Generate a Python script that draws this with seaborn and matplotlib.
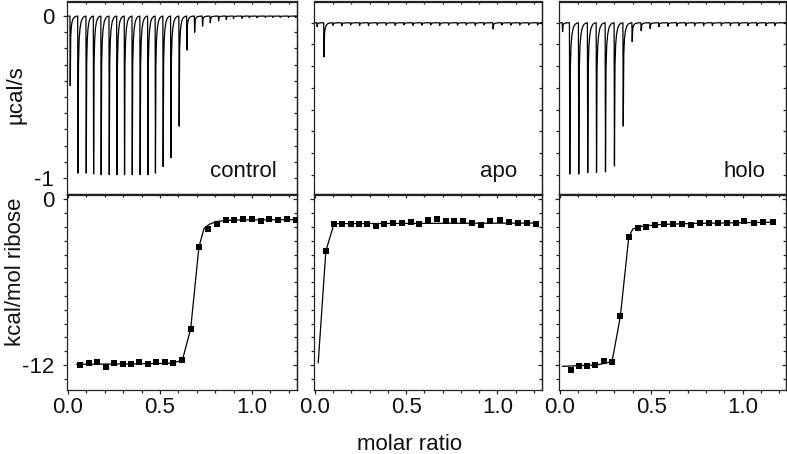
import seaborn as sns
import matplotlib.pyplot as plt
from matplotlib.ticker import MultipleLocator, FixedLocator, FixedFormatter


###############################################################################
### DATA
###############################################################################
# raw ITC thermograms: injection position (same units as the x axis below)
# and peak depth in ucal/s
ctrl_inj = [0.011, 0.053, 0.098, 0.138, 0.179, 0.223, 0.265, 0.306, 0.348, 0.391,
            0.433, 0.474, 0.516, 0.558, 0.603, 0.645, 0.687, 0.730, 0.772, 0.817,
            0.859, 0.898, 0.944, 0.984, 1.025, 1.071, 1.112, 1.152, 1.197, 1.237]
ctrl_peak = [-0.43, -0.97, -0.97, -0.975, -0.98, -0.98, -0.98, -0.98, -0.98, -0.98,
             -0.98, -0.97, -0.93, -0.875, -0.68, -0.21, -0.10, -0.062, -0.041, -0.029,
             -0.021, -0.014, -0.014, -0.010, -0.010, -0.008, -0.008, -0.008, -0.008, -0.008]

apo_inj = [0.011, 0.048, 0.097, 0.145, 0.194, 0.243, 0.292, 0.340, 0.389, 0.438,
           0.487, 0.536, 0.584, 0.633, 0.682, 0.731, 0.780, 0.828, 0.877, 0.926,
           0.975, 1.023, 1.072, 1.121, 1.170, 1.219]
apo_peak = [-0.018, -0.157, -0.012, -0.014, -0.010, -0.012, -0.013, -0.010, -0.011, -0.012,
            -0.010, -0.012, -0.011, -0.010, -0.012, -0.010, -0.011, -0.010, -0.012, -0.010,
            -0.028, -0.010, -0.011, -0.010, -0.010, -0.010]

holo_inj = [0.015, 0.054, 0.103, 0.152, 0.200, 0.249, 0.298, 0.346, 0.395, 0.444,
            0.493, 0.541, 0.590, 0.639, 0.687, 0.736, 0.785, 0.833, 0.882, 0.931,
            0.979, 1.028, 1.077, 1.126, 1.174]
holo_peak = [-0.041, -0.697, -0.697, -0.690, -0.690, -0.687, -0.660, -0.476, -0.087, -0.037,
             -0.026, -0.018, -0.016, -0.015, -0.014, -0.014, -0.014, -0.013, -0.013, -0.013,
             -0.013, -0.013, -0.013, -0.013, -0.013]

# integrated heats, kcal/mol ribose vs molar ratio
ctrl_ratio = [0.065, 0.114, 0.159, 0.205, 0.250, 0.297, 0.342, 0.388, 0.433, 0.478,
              0.526, 0.572, 0.620, 0.667, 0.712, 0.759, 0.808, 0.857, 0.904, 0.953,
              0.998, 1.047, 1.094, 1.143, 1.189, 1.237]
ctrl_heat = [-12.03, -11.86, -11.79, -12.15, -11.86, -11.91, -11.91, -11.81, -11.91, -11.81,
             -11.81, -11.86, -11.67, -9.37, -3.45, -2.17, -1.76, -1.52, -1.52, -1.45,
             -1.40, -1.57, -1.45, -1.47, -1.45, -1.47]
ctrl_fit_x = [0.047, 0.30, 0.55, 0.60, 0.625, 0.667, 0.712, 0.74, 0.77, 0.81, 0.90, 1.24]
ctrl_fit_y = [-11.95, -11.93, -11.88, -11.75, -11.5, -9.4, -3.45, -2.1, -1.8, -1.6, -1.5, -1.47]

apo_ratio = [0.060, 0.105, 0.151, 0.197, 0.242, 0.288, 0.333, 0.379, 0.430, 0.475,
             0.525, 0.570, 0.619, 0.667, 0.716, 0.765, 0.812, 0.862, 0.911, 0.962,
             1.013, 1.062, 1.111, 1.162, 1.210]
apo_heat = [-3.74, -1.76, -1.81, -1.76, -1.76, -1.81, -1.93, -1.76, -1.69, -1.69,
            -1.64, -1.76, -1.52, -1.45, -1.59, -1.57, -1.59, -1.69, -1.88, -1.57,
            -1.47, -1.64, -1.69, -1.69, -1.76]
apo_fit_x = [0.018, 0.060, 0.105, 1.21]
apo_fit_y = [-11.86, -3.74, -1.76, -1.72]

holo_ratio = [0.060, 0.105, 0.151, 0.196, 0.241, 0.287, 0.332, 0.378, 0.427, 0.474,
              0.523, 0.569, 0.618, 0.669, 0.718, 0.765, 0.814, 0.863, 0.914, 0.963,
              1.010, 1.063, 1.113, 1.164]
holo_heat = [-12.39, -12.08, -12.08, -11.98, -11.71, -11.79, -8.48, -2.73, -2.05, -2.00,
             -1.88, -1.81, -1.81, -1.81, -1.88, -1.69, -1.69, -1.69, -1.71, -1.69,
             -1.57, -1.71, -1.64, -1.64]
holo_fit_x = [0.015, 0.20, 0.241, 0.287, 0.332, 0.378, 0.40, 0.45, 0.55, 0.75, 1.164]
holo_fit_y = [-12.1, -12.0, -11.9, -11.75, -8.5, -2.75, -2.15, -1.95, -1.82, -1.74, -1.66]

panels = ['control', 'apo', 'holo']

# shape of a single injection spike: fraction of depth vs fraction of spacing
spike_dx = [0.0, 0.04, 0.10, 0.18, 0.28, 0.42, 0.60, 0.80, 1.0]
spike_f = [0.0, 1.0, 0.30, 0.15, 0.08, 0.035, 0.012, 0.003, 0.0]


def thermogram(inj, peak, x_end):
    '''
    build a power trace from injection positions and peak depths
    '''
    xs, ys = [0.0], [0.0]
    for i, (x0, d) in enumerate(zip(inj, peak)):
        gap = inj[i + 1] - x0 if i + 1 < len(inj) else inj[i] - inj[i - 1]
        for dx, f in zip(spike_dx, spike_f):
            xs.append(x0 + dx * gap)
            ys.append(d * f)
    xs.append(x_end)
    ys.append(0.0)
    return xs, ys


###############################################################################
### PLOT
###############################################################################
sns.set_theme(style='ticks')
plt.rcParams['font.family'] = ['Liberation Sans', 'DejaVu Sans']
plt.rcParams['axes.linewidth'] = 0.9
plt.rcParams['axes.edgecolor'] = '#222222'

W, H = 787, 454
fig = plt.figure(figsize=(W / 100, H / 100), dpi=100)

cols_px = [(67, 297), (314, 542), (559, 786)]
top_px = (1.5, 194)
bot_px = (194.5, 389.5)
xlims = [(-0.005, 1.245), (-0.005, 1.245), (-0.003, 1.237)]


def rect(xp, yp):
    return [xp[0] / W, 1 - yp[1] / H, (xp[1] - xp[0]) / W, (yp[1] - yp[0]) / H]


def mirror_ticks(ax, xminor, yminor, xmajor=None, ymajor=None):
    '''
    inward ticks on the top and right spines, no labels
    '''
    sx = ax.secondary_xaxis('top')
    sx.xaxis.set_major_locator(FixedLocator(xmajor if xmajor else []))
    sx.xaxis.set_minor_locator(FixedLocator(xminor))
    sx.tick_params(which='both', direction='in', labeltop=False, width=0.9, color='#222222')
    sx.tick_params(which='major', length=3.2)
    sx.tick_params(which='minor', length=2.5)
    sy = ax.secondary_yaxis('right')
    sy.yaxis.set_major_locator(FixedLocator(ymajor if ymajor else []))
    sy.yaxis.set_minor_locator(FixedLocator(yminor))
    sy.tick_params(which='both', direction='in', labelright=False, width=0.9, color='#222222')
    sy.tick_params(which='major', length=3.2)
    sy.tick_params(which='minor', length=2.5)


thermo = [(ctrl_inj, ctrl_peak), (apo_inj, apo_peak), (holo_inj, holo_peak)]
heats = [(ctrl_ratio, ctrl_heat, ctrl_fit_x, ctrl_fit_y),
         (apo_ratio, apo_heat, apo_fit_x, apo_fit_y),
         (holo_ratio, holo_heat, holo_fit_x, holo_fit_y)]
label_x = [0.913, 0.89, 0.907]
x_minor = [round(0.1 * k, 1) for k in range(1, 13)]

for i in range(3):
    # ---------------- top: raw heat flow
    ax = fig.add_axes(rect(cols_px[i], top_px))
    xs, ys = thermogram(*thermo[i], xlims[i][1])
    sns.lineplot(x=xs, y=ys, ax=ax, color='black', lw=0.9, sort=False, estimator=None)
    ax.set_xlim(*xlims[i])
    if i == 0:
        ax.set_ylim(-1.099, 0.09)
        ax.yaxis.set_major_locator(FixedLocator([0, -1]))
        ax.yaxis.set_major_formatter(FixedFormatter(['0', '-1']))
        ax.yaxis.set_minor_locator(MultipleLocator(0.1))
        y_minor = [round(-0.1 * k, 1) for k in range(0, 11)]
    else:
        ax.set_ylim(-0.789, 0.098)
        ax.yaxis.set_major_locator(FixedLocator([]))
        y_minor = [round(-0.1 * k, 1) for k in range(0, 8)]
        ax.yaxis.set_minor_locator(FixedLocator(y_minor))
    ax.tick_params(axis='x', which='both', bottom=False, labelbottom=False)
    ax.tick_params(axis='y', which='both', direction='out', width=0.9,
                   color='#222222', labelsize=16, labelcolor='#111111', pad=6)
    ax.tick_params(axis='y', which='major', length=3.2)
    ax.tick_params(axis='y', which='minor', length=2.5)
    ax.set_xlabel('')
    ax.set_ylabel('')
    mirror_ticks(ax, x_minor, y_minor)
    ax.text(label_x[i], 0.088, panels[i], transform=ax.transAxes, ha='right',
            va='baseline', fontsize=16, color='#111111')

    # ---------------- bottom: integrated heats
    ax2 = fig.add_axes(rect(cols_px[i], bot_px))
    r, q, fx, fy = heats[i]
    sns.lineplot(x=fx, y=fy, ax=ax2, color='black', lw=0.9, sort=False, estimator=None)
    sns.scatterplot(x=r, y=q, ax=ax2, marker='s', s=24, color='black',
                    edgecolor='black', linewidth=0, zorder=3)
    ax2.set_xlim(*xlims[i])
    ax2.set_ylim(-13.78, 0.35)
    ax2.xaxis.set_major_locator(FixedLocator([0, 0.5, 1.0]))
    ax2.xaxis.set_major_formatter(FixedFormatter(['0.0', '0.5', '1.0']))
    ax2.xaxis.set_minor_locator(MultipleLocator(0.1))
    ax2.yaxis.set_major_locator(FixedLocator([0, -12]))
    if i == 0:
        ax2.yaxis.set_major_formatter(FixedFormatter(['0', '-12']))
    else:
        ax2.tick_params(axis='y', labelleft=False)
    ax2.yaxis.set_minor_locator(MultipleLocator(1))
    ax2.tick_params(which='both', direction='out', width=0.9, color='#222222',
                    labelsize=16, labelcolor='#111111')
    ax2.tick_params(which='major', length=3.2)
    ax2.tick_params(which='minor', length=2.5)
    ax2.tick_params(axis='x', pad=2)
    ax2.tick_params(axis='y', pad=6)
    ax2.set_xlabel('')
    ax2.set_ylabel('')
    mirror_ticks(ax2, x_minor, [float(-k) for k in range(0, 14)],
                 xmajor=[0, 0.5, 1.0], ymajor=[0, -12])

fig.text(16 / W, 1 - 94.5 / H, 'µcal/s', rotation=90, ha='center', va='center',
         fontsize=16, color='#111111')
fig.text(16 / W, 1 - 272 / H, 'kcal/mol ribose', rotation=90, ha='center', va='center',
         fontsize=16, color='#111111')
fig.text(410 / W, 0.008, 'molar ratio', ha='center', va='baseline',
         fontsize=16, color='#111111')

fig.savefig('out.png', dpi=100)
